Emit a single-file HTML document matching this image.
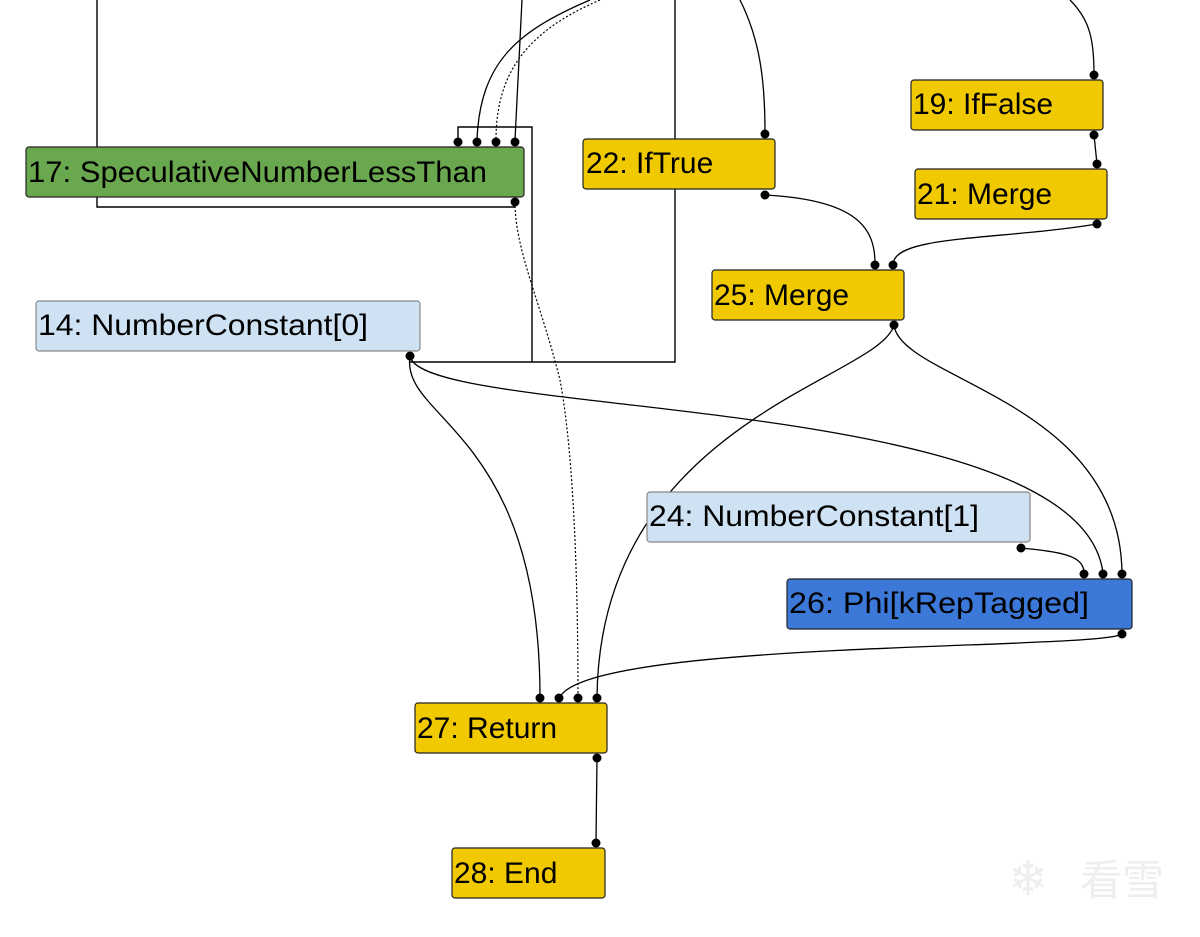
<!DOCTYPE html>
<html><head><meta charset="utf-8"><style>
html,body{margin:0;padding:0;background:#fff;width:1200px;height:937px;overflow:hidden}
svg{display:block}
text{font-family:"Liberation Sans",sans-serif;font-size:30px;fill:#000}
</style></head><body>
<svg width="1200" height="937" viewBox="0 0 1200 937" xmlns="http://www.w3.org/2000/svg">
<g fill="none" stroke="#000" stroke-width="1.4">
<path d="M97 0 V207 H515"/>
<path d="M675 0 V362 H410"/>
<path d="M532 362 V127 H458 V140"/>
</g>
<g fill="none" stroke="#000" stroke-width="1.3">
<path d="M522 0 L515 140"/>
<path d="M590 0 C520 30 480 60 477 140"/>
<path d="M740 0 C760 40 765 80 765 133"/>
<path d="M1070 0 C1090 20 1094 40 1094 74"/>
<path d="M1094 135 L1097 164"/>
<path d="M765 195 C860 200 875 230 875 264"/>
<path d="M1097 224 C1000 240 895 235 893 264"/>
<path d="M410 356 C400 420 540 430 540 697"/>
<path d="M410 356 C420 420 1080 390 1103 573"/>
<path d="M894 325 C900 380 1120 400 1122 573"/>
<path d="M894 325 C880 380 600 420 597 697"/>
<path d="M1021 548 C1060 552 1084 555 1084 573"/>
<path d="M1122 634 C1100 650 590 640 560 697"/>
<path d="M597 758 L596 842"/>
</g>
<g fill="none" stroke="#000" stroke-width="1.2" stroke-dasharray="2,2">
<path d="M600 0 C530 30 496 70 496 140"/>
<path d="M515 202 C515 250 540 300 560 380 C575 460 578 600 578 697"/>
</g>
<g fill="#000">
<circle cx="458" cy="142" r="4.5"/><circle cx="477" cy="142" r="4.5"/><circle cx="496" cy="142" r="4.5"/><circle cx="515" cy="142" r="4.5"/>
<circle cx="515" cy="202" r="4.5"/>
<circle cx="765" cy="134" r="4.5"/><circle cx="765" cy="195" r="4.5"/>
<circle cx="1094" cy="75" r="4.5"/><circle cx="1094" cy="135" r="4.5"/>
<circle cx="1097" cy="164" r="4.5"/><circle cx="1097" cy="224" r="4.5"/>
<circle cx="875" cy="265" r="4.5"/><circle cx="893" cy="265" r="4.5"/><circle cx="894" cy="325" r="4.5"/>
<circle cx="410" cy="356" r="4.5"/><circle cx="1021" cy="548" r="4.5"/>
<circle cx="1084" cy="574" r="4.5"/><circle cx="1103" cy="574" r="4.5"/><circle cx="1122" cy="574" r="4.5"/><circle cx="1122" cy="634" r="4.5"/>
<circle cx="540" cy="698" r="4.5"/><circle cx="559" cy="698" r="4.5"/><circle cx="578" cy="698" r="4.5"/><circle cx="597" cy="698" r="4.5"/>
<circle cx="597" cy="758" r="4.5"/><circle cx="596" cy="843" r="4.5"/>
</g>
<g stroke="#222" stroke-width="1.2">
<rect x="26" y="147" width="498" height="50" rx="3" fill="#6aa84f"/>
<rect x="583" y="139" width="192" height="50" rx="3" fill="#f1c900"/>
<rect x="911" y="80" width="192" height="50" rx="3" fill="#f1c900"/>
<rect x="915" y="169" width="192" height="50" rx="3" fill="#f1c900"/>
<rect x="712" y="270" width="192" height="50" rx="3" fill="#f1c900"/>
<rect x="36" y="301" width="384" height="50" rx="3" fill="#cfe2f3" stroke="#888"/>
<rect x="647" y="492" width="383" height="50" rx="3" fill="#cfe2f3" stroke="#888"/>
<rect x="787" y="579" width="345" height="50" rx="3" fill="#3c78d8"/>
<rect x="415" y="703" width="192" height="50" rx="3" fill="#f1c900"/>
<rect x="452" y="848" width="153" height="50" rx="3" fill="#f1c900"/>
</g>
<text x="28" y="182" textLength="459" lengthAdjust="spacingAndGlyphs">17: SpeculativeNumberLessThan</text>
<text x="586" y="173">22: IfTrue</text>
<text x="913" y="114">19: IfFalse</text>
<text x="917" y="204">21: Merge</text>
<text x="714" y="305">25: Merge</text>
<text x="38" y="335" textLength="330" lengthAdjust="spacingAndGlyphs">14: NumberConstant[0]</text>
<text x="649" y="526" textLength="330" lengthAdjust="spacingAndGlyphs">24: NumberConstant[1]</text>
<text x="789" y="613" textLength="300" lengthAdjust="spacingAndGlyphs">26: Phi[kRepTagged]</text>
<text x="417" y="738">27: Return</text>
<text x="454" y="883">28: End</text>
<text x="1080" y="895" style="font-family:'Noto Sans CJK SC',sans-serif;font-size:42px;fill:#eee">看雪</text>
<text x="1008" y="895" style="font-size:48px;fill:#eee">❄</text>
</svg>
</body></html>
